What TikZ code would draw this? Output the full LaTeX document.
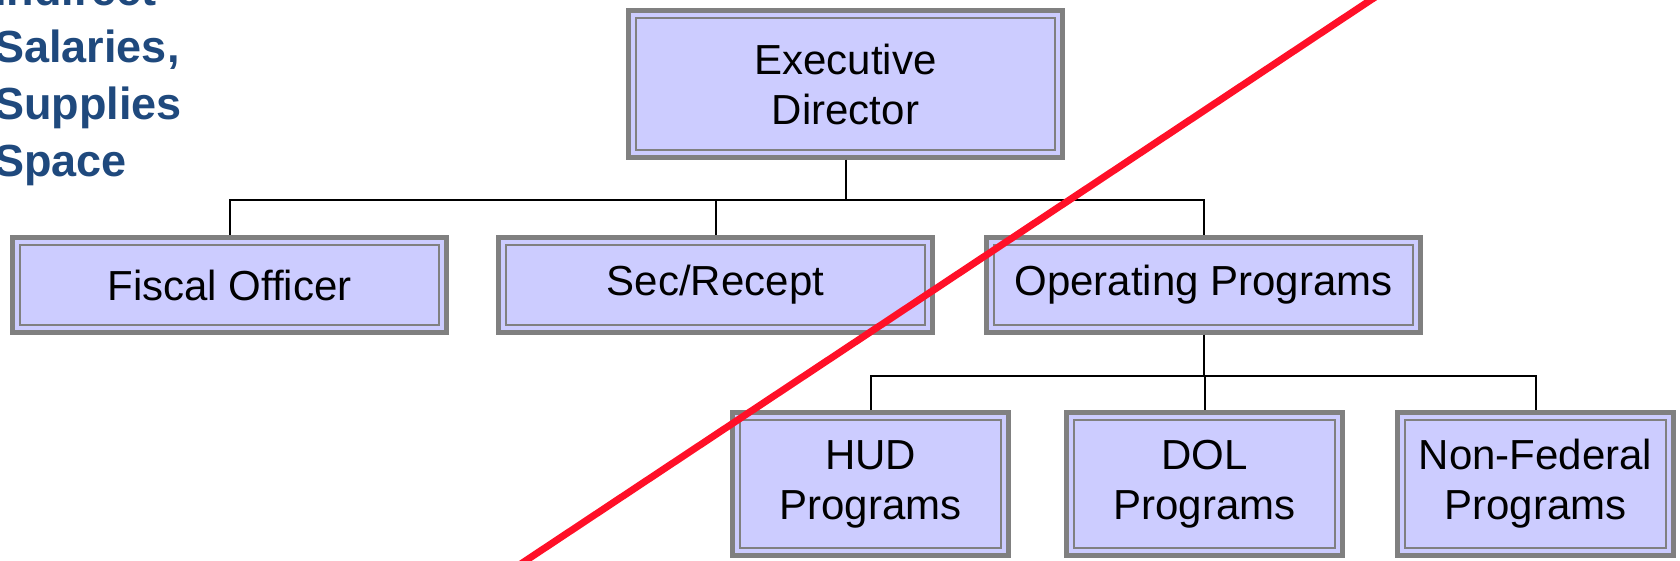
\documentclass[tikz,border=0pt]{standalone}
\usepackage{fontspec}
\setmainfont{Liberation Sans}
\definecolor{khung}{RGB}{128,128,128}
\definecolor{nen}{RGB}{204,204,255}
\definecolor{chu}{RGB}{31,73,125}
\definecolor{gach}{RGB}{255,16,40}
\begin{document}
\begin{tikzpicture}[x=0.5pt,y=-0.5pt,declare function={t1=200;t2=376;},font=\fontsize{21}{25}\selectfont]
	\tikzset{hop/.style={draw=khung,line width=2.4pt,fill=nen,align=center,inner sep=0pt,
			path picture={\draw[khung,line width=1.2pt] ([shift={(3.8pt,-3.8pt)}]path picture bounding box.north west) rectangle ([shift={(-3.8pt,3.8pt)}]path picture bounding box.south east);}},
		lon/.style={hop,minimum width=217pt,minimum height=73.5pt},
		vua/.style={hop,minimum width=217pt,minimum height=47.5pt},
		nho/.style={hop,minimum width=138pt,minimum height=71.5pt},
		noi/.style={black,line width=1pt}}
	
	% Khung hinh
	\useasboundingbox (0,0) rectangle (1680,561);
	\clip (0,0) rectangle (1680,561);
	
	% Ghi chu ben trai (dong cuoi dat tai duong co so)
	\node[anchor=base west,text=chu,font=\fontsize{22.5}{28.5}\selectfont\bfseries,align=left,inner sep=0pt] (CP) at (-6,177) {Indirect\\Salaries,\\Supplies\\Space};
	
	% Cac o (Nodes)
	\path (845.5,84) node[lon] (ED) {Executive\\Director}
	
	% Cap 2
	(229.5,285) node[vua] (FO) {Fiscal Officer}
	(715.5,285) node[vua] (SR) {Sec/Recept}
	(1203.5,285) node[vua] (OP) {Operating Programs}
	
	% Cap 3
	(870.5,484) node[nho] (HUD) {HUD\\Programs}
	(1204.5,484) node[nho] (DOL) {DOL\\Programs}
	(1535.5,484) node[nho] (NF) {Non-Federal\\Programs};
	
	% Duong noi
	\draw[noi] (ED.south) -- (ED.south |- 0,t1) -| (FO.north);
	\draw[noi] (ED.south) -- (ED.south |- 0,t1) -| (SR.north);
	\draw[noi] (ED.south) -- (ED.south |- 0,t1) -| (OP.north);
	
	\draw[noi] (OP.south) -- (OP.south |- 0,t2) -| (HUD.north);
	\draw[noi] (OP.south) -- (OP.south |- 0,t2) -| (DOL.north);
	\draw[noi] (OP.south) -- (OP.south |- 0,t2) -| (NF.north);
	
	% Gach cheo
	\draw[gach,line width=3.5pt] (483,589) -- (1413,-28);
\end{tikzpicture}
\end{document}
